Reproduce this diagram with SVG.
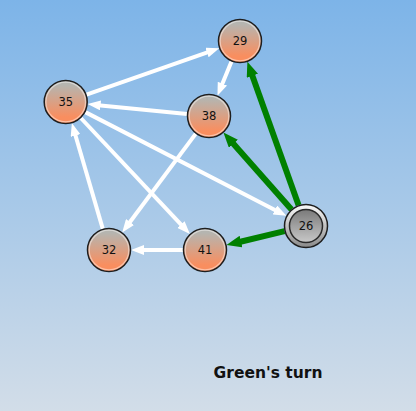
<svg xmlns="http://www.w3.org/2000/svg" width="416" height="411" viewBox="0 0 416 411">
<defs>
<linearGradient id="bg" x1="0" y1="0" x2="0" y2="1">
<stop offset="0" stop-color="#7db4e8"/>
<stop offset="1" stop-color="#d2dde8"/>
</linearGradient>
<linearGradient id="nodeFill" x1="0" y1="0" x2="0" y2="1">
<stop offset="0.1" stop-color="#b5b5b0"/>
<stop offset="0.85" stop-color="#f98e5f"/>
</linearGradient>
<linearGradient id="ringFill" x1="0" y1="0" x2="0" y2="1">
<stop offset="0" stop-color="#fafafa"/>
<stop offset="1" stop-color="#8a8a8a"/>
</linearGradient>
<linearGradient id="curFill" x1="0" y1="0" x2="0" y2="1">
<stop offset="0" stop-color="#7a7a7a"/>
<stop offset="1" stop-color="#c8c8c8"/>
</linearGradient>
<marker id="wa" markerUnits="userSpaceOnUse" markerWidth="13" markerHeight="10" refX="5" refY="5" orient="auto">
<path d="M0,0 L13,5 L0,10 z" fill="#ffffff"/>
</marker>
<marker id="ga" markerUnits="userSpaceOnUse" markerWidth="15" markerHeight="12" refX="6" refY="6" orient="auto">
<path d="M0,0 L15,6 L0,12 z" fill="#008000"/>
</marker>
</defs>
<style>
.w{stroke:#ffffff;stroke-width:4;fill:none;marker-end:url(#wa)}
.g{stroke:#008000;stroke-width:6;fill:none;marker-end:url(#ga)}
.n{fill:url(#nodeFill);stroke:#1e1e1e;stroke-width:1.5}
.hl{fill:none;stroke:#ffffff;stroke-opacity:0.45;stroke-width:1.2}
.t{font-family:"DejaVu Sans",Verdana,sans-serif;font-size:11.5px;fill:#111;text-anchor:middle}
.title{font-family:"DejaVu Sans",Verdana,sans-serif;font-size:15.5px;font-weight:bold;fill:#111;text-anchor:middle}
</style>
<rect x="0" y="0" width="416" height="411" fill="url(#bg)"/>
<g id="connectors">
<line class="w" x1="86.5" y1="94.7" x2="211.7" y2="50.9"/>
<line class="w" x1="231.6" y1="61.3" x2="220.5" y2="88.3"/>
<line class="w" x1="187.1" y1="113.9" x2="95.6" y2="104.9"/>
<line class="w" x1="85.3" y1="112.1" x2="279.3" y2="212.2"/>
<line class="w" x1="80.8" y1="118" x2="184.4" y2="228.2"/>
<line class="w" x1="195.8" y1="133.6" x2="127" y2="226"/>
<line class="w" x1="102.8" y1="228.9" x2="74.1" y2="130.8"/>
<line class="w" x1="183" y1="250" x2="139" y2="250"/>
<line class="g" x1="298.6" y1="205.3" x2="250.4" y2="70.2"/>
<line class="g" x1="291.5" y1="209.5" x2="229.4" y2="139.3"/>
<line class="g" x1="284.6" y1="231.1" x2="235.2" y2="243"/>
</g>
<g id="node29">
<circle class="n" cx="240" cy="41" r="21.5"/>
<circle class="hl" cx="240" cy="41" r="19.8"/>
<text class="t" x="240" y="45">29</text>
</g>
<g id="node35">
<circle class="n" cx="65.7" cy="102" r="21.5"/>
<circle class="hl" cx="65.7" cy="102" r="19.8"/>
<text class="t" x="65.7" y="106">35</text>
</g>
<g id="node38">
<circle class="n" cx="209" cy="116" r="21.5"/>
<circle class="hl" cx="209" cy="116" r="19.8"/>
<text class="t" x="209" y="120">38</text>
</g>
<g id="node32">
<circle class="n" cx="109" cy="250" r="21.5"/>
<circle class="hl" cx="109" cy="250" r="19.8"/>
<text class="t" x="109" y="254">32</text>
</g>
<g id="node41">
<circle class="n" cx="205" cy="250" r="21.5"/>
<circle class="hl" cx="205" cy="250" r="19.8"/>
<text class="t" x="205" y="254">41</text>
</g>
<g id="node26">
<circle cx="306" cy="226" r="21.5" fill="url(#ringFill)" stroke="#1e1e1e" stroke-width="1.5"/>
<circle cx="306" cy="226" r="16.5" fill="url(#curFill)" stroke="#2a2a2a" stroke-width="1.5"/>
<text class="t" x="306" y="230">26</text>
</g>
<text class="title" x="268" y="378">Green's turn</text>
</svg>
